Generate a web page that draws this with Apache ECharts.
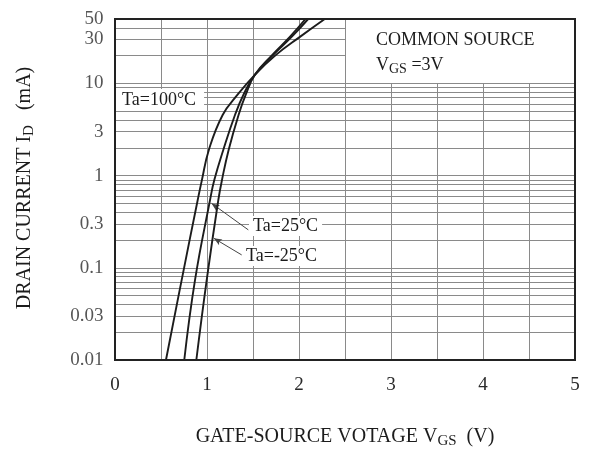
<!DOCTYPE html>
<html>
<head>
<meta charset="utf-8">
<script src="https://cdn.jsdelivr.net/npm/echarts@6/dist/echarts.min.js"></script>
<style>
  html, body { margin: 0; padding: 0; background: #fff; }
  #chart { width: 594px; height: 450px; }
</style>
</head>
<body>
<div id="chart"></div>
<script>
// Drain current vs gate-source voltage, [VGS (V), ID (mA)]
const ta100 = [[0.554, 0.01], [0.725, 0.074], [0.899, 0.544], [0.945, 0.9], [1.02, 1.9],
  [1.17, 4.55], [1.33, 7.5], [1.52, 12.4], [1.75, 20.4], [2.01, 32], [2.28, 50]];
const ta25 = [[0.753, 0.01], [0.87, 0.074], [1.033, 0.544], [1.08, 0.9], [1.177, 1.9],
  [1.304, 4.55], [1.395, 7.5], [1.52, 12.4], [1.72, 20.4], [1.92, 32], [2.10, 50]];
const taMinus25 = [[0.884, 0.01], [0.997, 0.074], [1.123, 0.544], [1.163, 0.9], [1.235, 1.9],
  [1.343, 4.55], [1.42, 7.5], [1.52, 12.4], [1.71, 20.4], [1.90, 32], [2.07, 50]];

// Axis ticks
const yTickLabels = [0.01, 0.03, 0.1, 0.3, 1, 3, 10, 30, 50];
const xMin = 0, xMax = 5, xStep = 1;
const yMin = 0.01, yMax = 50;

// Grid lines
const hLinesFull = [0.02, 0.03, 0.04, 0.05, 0.06, 0.07, 0.08, 0.09, 0.1,
  0.2, 0.3, 0.4, 0.5, 0.6, 0.7, 0.8, 0.9, 1, 2, 3, 4, 5, 6, 7, 8, 9, 10];
const hLinesShort = [20, 30, 40];
const vLinesFull = [0.5, 1, 1.5, 2, 2.5];
const vLinesShort = [3, 3.5, 4, 4.5];
const shortLineEndX = 2.5;
const shortLineTopY = 10;

// Leader lines: [from curve point, to label]
const leader25 = [[1.05, 0.5], [1.449, 0.258]];
const leaderMinus25 = [[1.075, 0.209], [1.377, 0.138]];

const serif = '"Liberation Serif", "DejaVu Serif", serif';
const ink = '#1c1c1c';

const gridLineData = [];
hLinesFull.forEach(v => gridLineData.push([{ coord: [xMin, v] }, { coord: [xMax, v] }]));
hLinesShort.forEach(v => gridLineData.push([{ coord: [xMin, v] }, { coord: [shortLineEndX, v] }]));
vLinesFull.forEach(v => gridLineData.push([{ coord: [v, yMin] }, { coord: [v, yMax] }]));
vLinesShort.forEach(v => gridLineData.push([{ coord: [v, yMin] }, { coord: [v, shortLineTopY] }]));

function curve(name, data) {
  return {
    name, type: 'line', data, smooth: 0.45,
    showSymbol: false, silent: true,
    lineStyle: { color: ink, width: 1.9 }, z: 5
  };
}

const chart = echarts.init(document.getElementById('chart'), null, { renderer: 'canvas' });
chart.setOption({
  animation: false,
  backgroundColor: '#fff',
  grid: {
    left: 115, right: 19, top: 19, bottom: 90,
    show: true, borderColor: '#222', borderWidth: 2, backgroundColor: 'transparent', z: 10
  },
  xAxis: {
    type: 'value', min: xMin, max: xMax, interval: xStep,
    axisLine: { show: false }, axisTick: { show: false }, splitLine: { show: false },
    axisLabel: { margin: 16, fontFamily: serif, fontSize: 19, color: '#2a2a2a' }
  },
  yAxis: {
    type: 'log', logBase: 10, min: yMin, max: yMax,
    axisLine: { show: false }, axisTick: { show: false }, splitLine: { show: false },
    axisLabel: { show: false }
  },
  series: [
    {
      name: 'grid', type: 'line', data: [], silent: true, z: 1,
      markLine: {
        silent: true, symbol: ['none', 'none'], animation: false,
        label: { show: false },
        lineStyle: { color: '#8a8a8a', width: 1, type: 'solid' },
        data: gridLineData
      }
    },
    {
      name: 'yTicks', type: 'scatter', silent: true, clip: false, z: 6,
      data: yTickLabels.map(v => [xMin, v]),
      symbolSize: 1, itemStyle: { color: 'rgba(0,0,0,0)' },
      label: {
        show: true, position: 'left', distance: 11,
        fontFamily: serif, fontSize: 19, color: '#2a2a2a',
        formatter: p => String(p.value[1])
      }
    },
    curve('Ta=100°C', ta100),
    curve('Ta=25°C', ta25),
    curve('Ta=-25°C', taMinus25),
    {
      name: 'leaders', type: 'line', data: [], silent: true, z: 7,
      markLine: {
        silent: true, symbol: ['arrow', 'none'], symbolSize: [5, 8], animation: false,
        label: { show: false },
        lineStyle: { color: '#444', width: 1, type: 'solid' },
        data: [
          [{ coord: leader25[0] }, { coord: leader25[1] }],
          [{ coord: leaderMinus25[0] }, { coord: leaderMinus25[1] }]
        ]
      }
    }
  ],
  graphic: [
    {
      type: 'text', left: 116, top: 89, z: 20,
      style: {
        text: 'Ta=100°C', font: '18px ' + serif, fill: ink,
        backgroundColor: '#fff', padding: [2, 8, 2, 6]
      }
    },
    {
      type: 'text', left: 249, top: 216, z: 20,
      style: {
        text: 'Ta=25°C', font: '18px ' + serif, fill: ink,
        backgroundColor: '#fff', padding: [1, 4, 1, 4]
      }
    },
    {
      type: 'text', left: 242, top: 246, z: 20,
      style: {
        text: 'Ta=-25°C', font: '18px ' + serif, fill: ink,
        backgroundColor: '#fff', padding: [1, 4, 1, 4]
      }
    },
    {
      type: 'text', left: 376, top: 31, z: 20,
      style: { text: 'COMMON SOURCE', font: '18px ' + serif, fill: ink }
    },
    {
      type: 'text', left: 376, top: 56, z: 20,
      style: {
        text: 'V{sub|GS} =3V', font: '18px ' + serif, fill: ink,
        rich: { sub: { fontFamily: serif, fontSize: 14, padding: [8, 0, 0, 0], fill: ink } }
      }
    },
    {
      type: 'text', x: 345, y: 437, z: 20,
      style: {
        text: 'GATE-SOURCE VOTAGE V{sub|GS}  (V)', font: '20px ' + serif, fill: ink,
        align: 'center', verticalAlign: 'middle',
        rich: { sub: { fontFamily: serif, fontSize: 15, padding: [9, 0, 0, 0], fill: ink } }
      }
    },
    {
      type: 'text', x: 25, y: 188, rotation: Math.PI / 2, z: 20,
      style: {
        text: 'DRAIN CURRENT I{sub|D}   (mA)', font: '20px ' + serif, fill: ink,
        align: 'center', verticalAlign: 'middle',
        rich: { sub: { fontFamily: serif, fontSize: 15, padding: [9, 0, 0, 0], fill: ink } }
      }
    }
  ]
});
</script>
</body>
</html>
